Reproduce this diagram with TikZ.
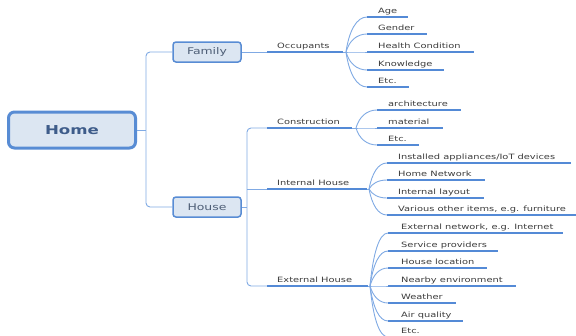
\documentclass[tikz,border=0pt]{standalone}
\usepackage{fontspec}
\setmainfont{DejaVu Sans}[FakeStretch=1.35]
\usetikzlibrary{calc}
\definecolor{ulcol}{RGB}{84,138,214}
\definecolor{thincol}{RGB}{128,170,228}
\definecolor{boxfill}{RGB}{220,230,242}
\definecolor{boxline}{RGB}{88,140,212}
\definecolor{leafgray}{RGB}{60,60,60}
\definecolor{boxtext}{RGB}{78,94,118}
\definecolor{hometext}{RGB}{62,92,138}
\tikzset{
  thinline/.style={draw=thincol, line width=0.9pt},
  underline/.style={draw=ulcol, line width=1.6pt},
  leaftext/.style={anchor=base west, inner sep=0pt, text=leafgray, font=\fontsize{7.3}{8}\selectfont},
  midbox/.style={draw=boxline, fill=boxfill, line width=1.5pt, rounded corners=3pt,
     minimum width=68pt, minimum height=20pt, inner sep=0pt, text=boxtext, font=\fontsize{9.2}{10}\selectfont},
  homebox/.style={draw=boxline, fill=boxfill, line width=3pt, rounded corners=6pt,
     minimum width=127pt, minimum height=36pt, inner sep=0pt, text=hometext, font=\fontsize{12.3}{14}\selectfont\bfseries},
}
% #1 name, #2 hub, #3 underline start x, #4 text x, #5 underline end x, #6 y, #7 text
\newcommand{\leafitem}[7]{%
  \coordinate (#1s) at (#3,#6);
  \coordinate (#1e) at (#5,#6);
  \draw[thinline] (#2) .. controls ($(#2)!0.6!(#2 |- #1s) + (3,0)$) and ($(#2 |- #1s)!0.5!(#1s)$) .. (#1s);
  \draw[underline] (#1s) -- (#1e);
  \node[leaftext] (#1) at (#4,#6-4) {#7};
}
% #1 name, #2 underline start x, #3 underline end x, #4 y, #5 text
\newcommand{\miditem}[5]{%
  \coordinate (#1s) at (#2,#4);
  \coordinate (#1e) at (#3,#4);
  \draw[underline] (#1s) -- (#1e);
  \node[leaftext] (#1) at (#2+10,#4-4) {#5};
}
\begin{document}
\begin{tikzpicture}[x=1pt,y=-1pt]
\useasboundingbox[fill=white] (0,0) rectangle (576,335);

% main boxes
\node[homebox] (home) at (72,130) {Home};
\node[midbox] (family) at (207,52) {Family};
\node[midbox] (house) at (207,207) {House};

\coordinate (t1) at (146,130);
\draw[thinline] (home.east) -- (t1);
\draw[thinline, rounded corners=4pt] (family.west) -| (t1) |- (house.west);

% Family branch
\miditem{occ}{267}{343}{52}{Occupants}
\draw[thinline] (family.east) -- (occs);
\coordinate (hub1) at (346,52);
\draw[thinline] (occe) -- (hub1);
\leafitem{age}{hub1}{367}{378}{408}{17}{Age}
\leafitem{gen}{hub1}{367}{378}{427}{34}{Gender}
\leafitem{hea}{hub1}{367}{378}{474}{52}{Health Condition}
\leafitem{kno}{hub1}{367}{378}{444}{70}{Knowledge}
\leafitem{etc1}{hub1}{367}{378}{409}{87}{Etc.}

% House branch
\miditem{con}{267}{352}{128}{Construction}
\miditem{int}{267}{367}{189}{Internal House}
\miditem{ext}{267}{368}{286}{External House}
\coordinate (t2) at (247,207);
\draw[thinline] (house.east) -- (t2);
\draw[thinline, rounded corners=4pt] (cons) -| (t2) |- (exts);
\draw[thinline] (t2 |- ints) -- (ints);

% Construction
\coordinate (hub2) at (356,128);
\draw[thinline] (cone) -- (hub2);
\leafitem{arc}{hub2}{377}{388}{461}{110}{architecture}
\leafitem{mat}{hub2}{377}{388}{443}{128}{material}
\leafitem{etc2}{hub2}{377}{388}{419}{145}{Etc.}

% Internal House
\coordinate (hub3) at (369,189);
\draw[thinline] (inte) -- (hub3);
\leafitem{ins}{hub3}{387}{398}{571}{163}{Installed appliances/IoT devices}
\leafitem{hnw}{hub3}{387}{398}{485}{180}{Home Network}
\leafitem{lay}{hub3}{387}{398}{484}{198}{Internal layout}
\leafitem{var}{hub3}{387}{398}{580}{215}{Various other items, e.g. furniture}

% External House
\coordinate (hub4) at (370,286);
\draw[thinline] (exte) -- (hub4);
\leafitem{enw}{hub4}{388}{401}{563}{233}{External network, e.g. Internet}
\leafitem{ser}{hub4}{388}{401}{498}{251}{Service providers}
\leafitem{loc}{hub4}{388}{401}{487}{268}{House location}
\leafitem{nea}{hub4}{388}{401}{516}{286}{Nearby environment}
\leafitem{wea}{hub4}{388}{401}{456}{303}{Weather}
\leafitem{air}{hub4}{388}{401}{463}{321}{Air quality}
\leafitem{etc3}{hub4}{388}{401}{430}{337}{Etc.}
\end{tikzpicture}
\end{document}
